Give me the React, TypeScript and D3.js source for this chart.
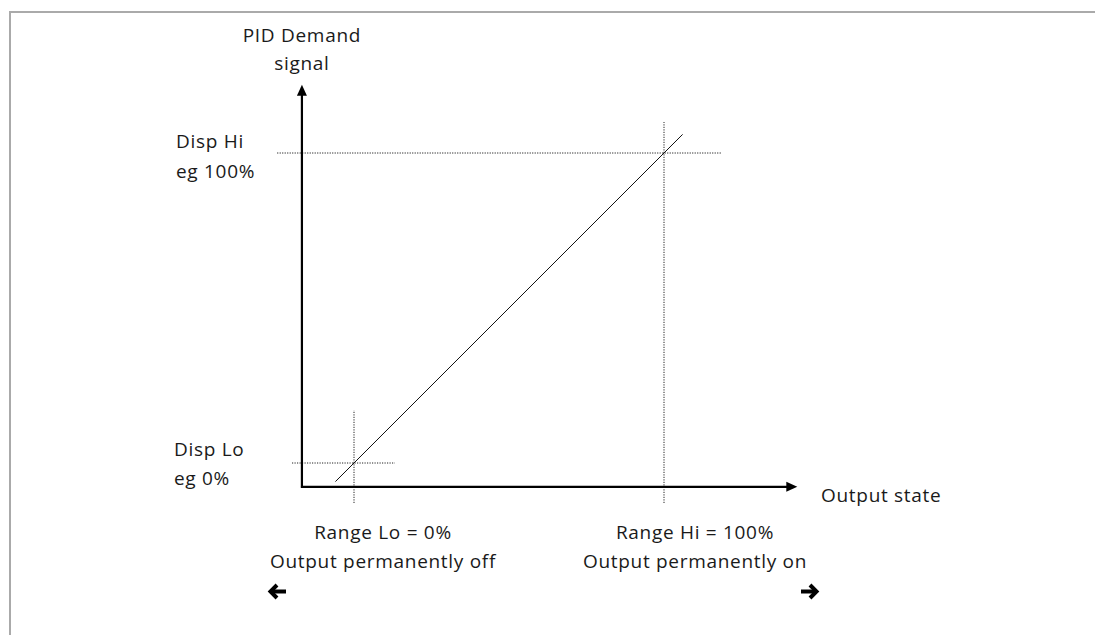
import React from "react";
import * as d3 from "d3";

// Chart values (percent space: Range Lo / Disp Lo = 0, Range Hi / Disp Hi = 100)
const rangeMarks = [0, 100]; // Range Lo, Range Hi (output state)
const dispMarks = [0, 100]; // Disp Lo, Disp Hi (PID demand)
const linePoints: [number, number][] = [
  [-6, -6],
  [106, 106],
];
const axisOrigin: [number, number] = [-16.8, -7.7];
const axisEnds = { x: 143, y: 122 };
const dispHiGuide = { from: -24.8, to: 118.7 };
const rangeHiGuide = { from: -12.9, to: 110 };
const dispLoGuide = { from: -20, to: 13.2 };
const rangeLoGuide = { from: -12.9, to: 17 };

const yAxisTitle = ["PID Demand", "signal"];
const xAxisTitle = "Output state";
const dispHiLabel = ["Disp Hi", "eg 100%"];
const dispLoLabel = ["Disp Lo", "eg 0%"];
const rangeLoLabel = ["Range Lo = 0%", "Output permanently off"];
const rangeHiLabel = ["Range Hi = 100%", "Output permanently on"];

const W = 1095;
const H = 635;
const FONT = "'Open Sans', 'Noto Sans', sans-serif";
const FS = 19;
const LS = 0.7;
const TXT = "#1a1a1a";

export default function App() {
  const x = d3.scaleLinear().domain([rangeMarks[0], rangeMarks[1]]).range([354, 664]);
  const y = d3.scaleLinear().domain([dispMarks[0], dispMarks[1]]).range([463, 153]);

  const ox = x(axisOrigin[0]);
  const oy = y(axisOrigin[1]);
  const xTip = x(axisEnds.x);
  const yTip = y(axisEnds.y);

  const line = d3
    .line<[number, number]>()
    .x((d) => x(d[0]))
    .y((d) => y(d[1]));

  const dot = { stroke: "#222", strokeWidth: 1, strokeDasharray: "1.2,1.3" };

  return (
    <svg
      width={W}
      height={H}
      style={{ position: "absolute", left: 0, top: 0, background: "#fff" }}
      fontFamily={FONT}
      fontSize={FS}
      letterSpacing={LS}
    >
      {/* frame */}
      <rect x={10} y={12} width={W + 20} height={H + 20} fill="none" stroke="#aaa" strokeWidth={2} />

      {/* guides */}
      <line x1={x(dispHiGuide.from)} x2={x(dispHiGuide.to)} y1={y(dispMarks[1])} y2={y(dispMarks[1])} {...dot} />
      <line x1={x(rangeMarks[1])} x2={x(rangeMarks[1])} y1={y(rangeHiGuide.from)} y2={y(rangeHiGuide.to)} {...dot} />
      <line x1={x(dispLoGuide.from)} x2={x(dispLoGuide.to)} y1={y(dispMarks[0])} y2={y(dispMarks[0])} {...dot} />
      <line x1={x(rangeMarks[0])} x2={x(rangeMarks[0])} y1={y(rangeLoGuide.from)} y2={y(rangeLoGuide.to)} {...dot} />

      {/* diagonal */}
      <path d={line(linePoints) || ""} fill="none" stroke="#111" strokeWidth={1} />

      {/* axes */}
      <line x1={ox} x2={ox} y1={oy + 1} y2={yTip + 10} stroke="#000" strokeWidth={2.2} />
      <path d={`M${ox - 5},${yTip + 11} L${ox},${yTip} L${ox + 5},${yTip + 11} Z`} fill="#000" />
      <line x1={ox - 1} x2={xTip - 10} y1={oy} y2={oy} stroke="#000" strokeWidth={2.2} />
      <path d={`M${xTip - 11},${oy - 5} L${xTip},${oy} L${xTip - 11},${oy + 5} Z`} fill="#000" />

      {/* texts */}
      <g fill={TXT}>
        <text x={ox} y={42} textAnchor="middle">{yAxisTitle[0]}</text>
        <text x={ox} y={70} textAnchor="middle">{yAxisTitle[1]}</text>

        <text x={176} y={148}>{dispHiLabel[0]}</text>
        <text x={176} y={178}>{dispHiLabel[1]}</text>

        <text x={174} y={456}>{dispLoLabel[0]}</text>
        <text x={174} y={485}>{dispLoLabel[1]}</text>

        <text x={821} y={502}>{xAxisTitle}</text>

        <text x={383} y={539} textAnchor="middle">{rangeLoLabel[0]}</text>
        <text x={383} y={568} textAnchor="middle">{rangeLoLabel[1]}</text>

        <text x={695} y={539} textAnchor="middle">{rangeHiLabel[0]}</text>
        <text x={695} y={568} textAnchor="middle">{rangeHiLabel[1]}</text>
      </g>

      {/* direction arrows */}
      <g stroke="#000" strokeWidth={4} fill="none" strokeLinecap="butt" strokeLinejoin="miter">
        <path d="M272,591.5 L286,591.5" />
        <path d="M277,585 L270.5,591.5 L277,598" />
        <path d="M801,591.5 L815,591.5" />
        <path d="M810,585 L816.5,591.5 L810,598" />
      </g>
    </svg>
  );
}
